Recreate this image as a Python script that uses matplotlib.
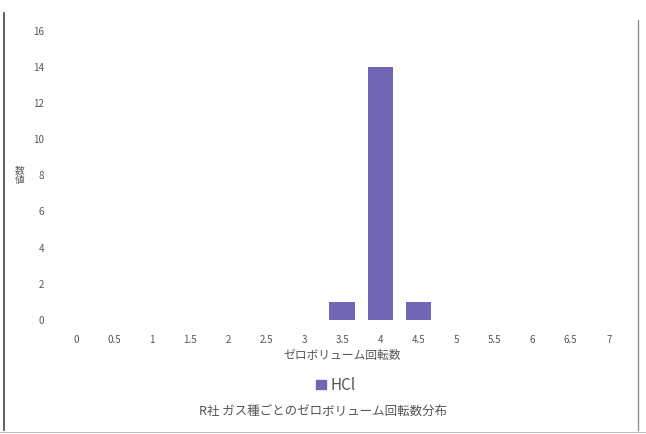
import matplotlib
matplotlib.use('Agg')
import matplotlib.pyplot as plt
from matplotlib.lines import Line2D
from matplotlib.patches import Patch

plt.rcParams['font.family'] = ['Noto Sans CJK JP', 'DejaVu Sans']

# data
categories = ['0', '0.5', '1', '1.5', '2', '2.5', '3', '3.5', '4', '4.5',
              '5', '5.5', '6', '6.5', '7']
hcl_counts = [0, 0, 0, 0, 0, 0, 0, 1, 14, 1, 0, 0, 0, 0, 0]
y_ticks = [0, 2, 4, 6, 8, 10, 12, 14, 16]

bar_color = '#7066b6'
text_color = '#555555'

fig = plt.figure(figsize=(6.46, 4.34), dpi=100)
ax = fig.add_axes([0.088, 0.263, 0.884, 0.666])

x = range(len(categories))
ax.bar(x, hcl_counts, 0.68, color=bar_color)
ax.set_xlim(-0.5, len(categories) - 0.5)
ax.set_ylim(0, 16)
ax.set_xticks(list(x))
ax.set_xticklabels(categories)
ax.set_yticks(y_ticks)
ax.tick_params(length=0, labelsize=7, colors=text_color, pad=11)
ax.tick_params(axis='y', pad=9)
for s in ax.spines.values():
    s.set_visible(False)

ax.set_xlabel('ゼロボリューム回転数', fontsize=8.5, color=text_color, labelpad=3)
fig.text(0.031, 0.597, '数\n値', fontsize=7, color=text_color,
         ha='center', va='center', linespacing=1.0)

fig.legend(handles=[Patch(color=bar_color, label='HCl')],
           loc='center', bbox_to_anchor=(0.52, 0.112), frameon=False,
           fontsize=11, handlelength=0.6, handleheight=0.6, handletextpad=0.3,
           labelcolor=text_color)
fig.text(0.50, 0.052, 'R社 ガス種ごとのゼロボリューム回転数分布',
         fontsize=9, color=text_color, ha='center', va='center')

# scanned page border lines
fig.add_artist(Line2D([0.006, 0.006], [0.01, 0.97], color='#444444', lw=1.2))
fig.add_artist(Line2D([0.988, 0.988], [0.01, 0.955], color='#888888', lw=0.9))
fig.add_artist(Line2D([0.0, 1.0], [0.005, 0.005], color='#bbbbbb', lw=0.8))

fig.savefig('out.png', dpi=100)
